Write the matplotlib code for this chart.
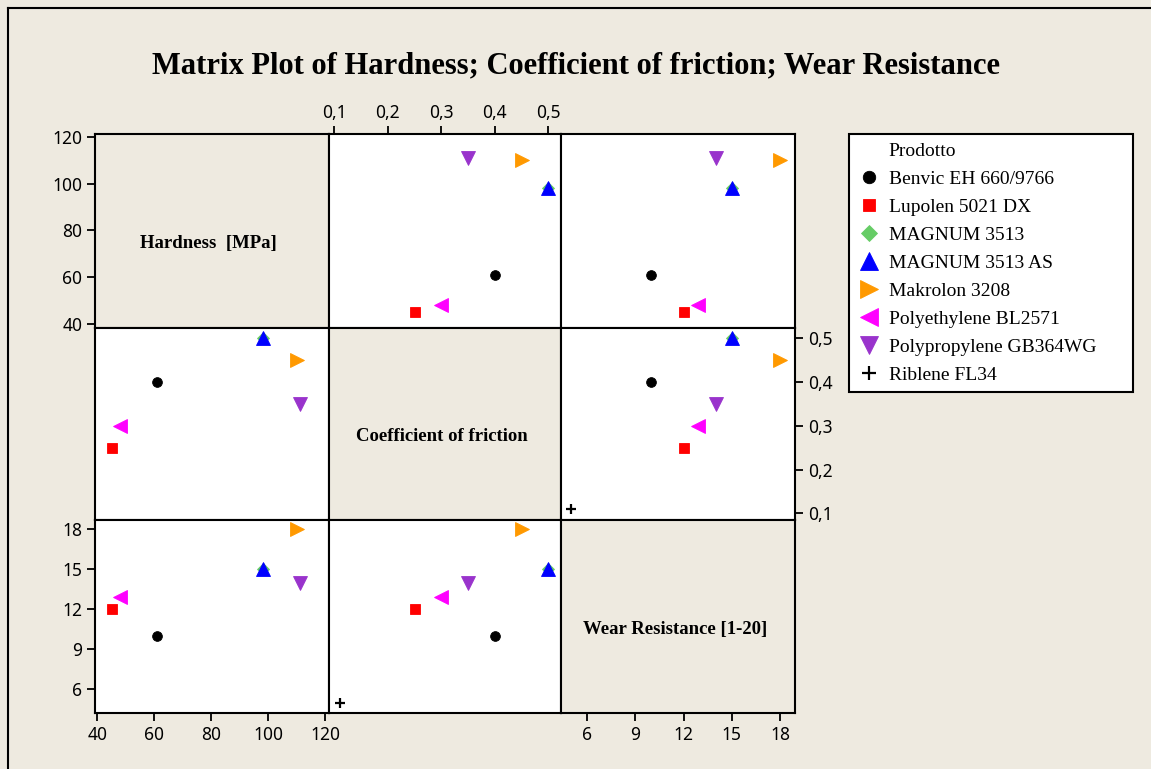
import numpy as np
import matplotlib
matplotlib.use("Agg")
import matplotlib.pyplot as plt
from matplotlib.lines import Line2D

# data (Riblene has no hardness value)
products = ["Benvic EH 660/9766", "Lupolen 5021 DX", "MAGNUM 3513", "MAGNUM 3513 AS",
            "Makrolon 3208", "Polyethylene BL2571", "Polypropylene GB364WG", "Riblene FL34"]
hardness = [61, 45, 98, 98, 110, 48, 111, np.nan]
friction = [0.40, 0.25, 0.50, 0.50, 0.45, 0.30, 0.35, 0.11]
wear = [10, 12, 15, 15, 18, 12.9, 14, 5]

var_names = ["Hardness  [MPa]", "Coefficient of friction", "Wear Resistance [1-20]"]
hard_ticks = [40, 60, 80, 100, 120]
fric_ticks = [0.1, 0.2, 0.3, 0.4, 0.5]
fric_labels = ["0,1", "0,2", "0,3", "0,4", "0,5"]
wear_ticks = [6, 9, 12, 15, 18]

# styles
markers = ["o", "s", "D", "^", ">", "<", "v", "+"]
colors = ["black", "#ff0000", "#66cc66", "#0000ff", "#ff9900", "#ff00ff", "#9933cc", "black"]
msizes = [7, 7, 6, 10, 10, 10, 10, 7.5]
bg = "#eeeae0"

plt.rcParams["font.family"] = ["Noto Sans", "DejaVu Sans"]

W, H = 1151, 769
fig = plt.figure(figsize=(W / 100, H / 100), dpi=100, facecolor=bg)

col_x = [95, 328.5, 561, 795]
row_y = [134, 328, 520, 713]

data = [hardness, friction, wear]
xlims = [(39.16, 121.1), (0.0892, 0.5237), (4.385, 18.92)]
ylims = [(38.3, 121.15), (0.0847, 0.5235), (4.22, 18.70)]

axes = {}
for i in range(3):
    for j in range(3):
        x0, x1 = col_x[j], col_x[j + 1]
        y0, y1 = row_y[i], row_y[i + 1]
        ax = fig.add_axes([x0 / W, 1 - y1 / H, (x1 - x0) / W, (y1 - y0) / H])
        ax.set_xlim(*xlims[j])
        ax.set_ylim(*ylims[i])
        ax.set_xticks([])
        ax.set_yticks([])
        for s in ax.spines.values():
            s.set_linewidth(1.5)
            s.set_color("black")
        ax.tick_params(direction="out", length=5.5, width=1.3, labelsize=12.5,
                       pad=3.5, colors="black")
        if i == j:
            ax.set_facecolor(bg)
            ax.text(0.487, 0.435, var_names[i], transform=ax.transAxes, ha="center",
                    va="center", fontsize=13.5, fontweight="bold",
                    family="Liberation Serif")
        else:
            ax.set_facecolor("white")
            for k in range(len(products)):
                mew = 1.6 if markers[k] == "+" else 0.6
                ax.plot(data[j][k], data[i][k], linestyle="none", marker=markers[k],
                        color=colors[k], markersize=msizes[k], markeredgewidth=mew,
                        clip_on=False, zorder=3)
        axes[(i, j)] = ax

# hardness scale: left of row 1, bottom of column 1
axes[(0, 0)].set_yticks(hard_ticks)
axes[(2, 0)].set_xticks(hard_ticks)
# friction scale: top of column 2, right of row 2
ax = axes[(0, 1)]
ax.set_xticks(fric_ticks, fric_labels)
ax.tick_params(top=True, labeltop=True, bottom=False, labelbottom=False)
ax = axes[(1, 2)]
ax.set_yticks(fric_ticks, fric_labels)
ax.tick_params(right=True, labelright=True, left=False, labelleft=False, pad=4)
# wear scale: left of row 3, bottom of column 3
axes[(2, 0)].set_yticks(wear_ticks)
axes[(2, 2)].set_xticks(wear_ticks)

fig.text(0.5, 1 - 73 / H, "Matrix Plot of Hardness; Coefficient of friction; Wear Resistance",
         ha="center", va="baseline", fontsize=22, fontweight="bold",
         family="Liberation Serif")

# window frame lines
fig.add_artist(Line2D([8 / W, 1], [1 - 7.5 / H] * 2, transform=fig.transFigure,
                      color="black", linewidth=1.5))
fig.add_artist(Line2D([8 / W] * 2, [0, 1 - 7.5 / H], transform=fig.transFigure,
                      color="black", linewidth=1.5))

handles = [Line2D([], [], linestyle="none", label="Prodotto")]
for k, name in enumerate(products):
    mew = 1.6 if markers[k] == "+" else 0.6
    handles.append(Line2D([], [], linestyle="none", marker=markers[k], color=colors[k],
                          markersize=msizes[k], markeredgewidth=mew, label=name))

lx0, lx1, ly0, ly1 = 849, 1133, 134, 392
leg = fig.legend(handles=handles, loc="upper left", mode="expand",
                 bbox_to_anchor=(lx0 / W, 1 - ly1 / H, (lx1 - lx0) / W, (ly1 - ly0) / H),
                 borderaxespad=0, prop={"family": "Liberation Serif", "size": 14},
                 handlelength=1.15, handletextpad=0.45, borderpad=0.45,
                 labelspacing=0.53, markerscale=1.28, fancybox=False, framealpha=1)
leg.get_frame().set_edgecolor("black")
leg.get_frame().set_linewidth(1.5)
leg.get_frame().set_facecolor("white")

fig.savefig("out.png", dpi=100, facecolor=bg)
